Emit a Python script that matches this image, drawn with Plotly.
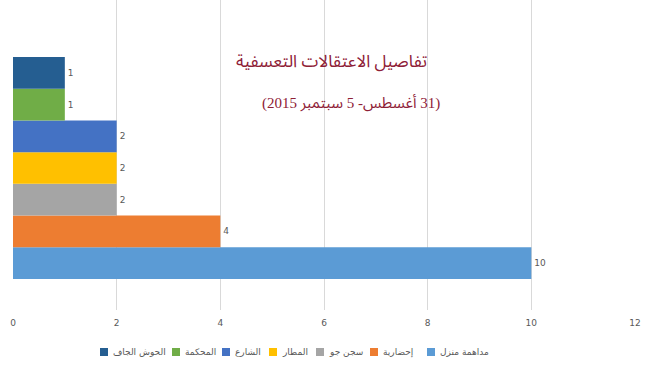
import plotly.graph_objects as go

series_names = ["مداهمة منزل", "إحضارية", "سجن جو", "المطار", "الشارع", "المحكمة", "الحوش الجاف"]
series_values = [10, 4, 2, 2, 2, 1, 1]
series_colors = ["#5B9BD5", "#ED7D31", "#A5A5A5", "#FFC000", "#4472C4", "#70AD47", "#255E91"]
x_ticks = [0, 2, 4, 6, 8, 10, 12]
title_line1 = "تفاصيل الاعتقالات التعسفية"
title_line2 = "(31 أغسطس- 5 سبتمبر 2015)"

# legend layout (pixel positions of legend squares, left-to-right order)
legend_order = ["الحوش الجاف", "المحكمة", "الشارع", "المطار", "سجن جو", "إحضارية", "مداهمة منزل"]
legend_px = [100, 172, 222, 269, 316, 370, 427]

W, H = 650, 375
ML, MR, MT, MB = 13, 15, 0, 65
TITLE_FONT = "Liberation Serif, Noto Sans Arabic, DejaVu Sans"

fig = go.Figure()
for name, val, col in zip(series_names, series_values, series_colors):
    fig.add_trace(go.Bar(
        x=[val], y=[0], name=name, orientation="h",
        marker=dict(color=col, line=dict(width=0)),
        text=[str(val)], textposition="outside",
        textfont=dict(size=9, color="#595959", family="DejaVu Sans"),
        cliponaxis=False, showlegend=False,
    ))

# manual RTL-style legend below the axis
shapes = []
annotations = []
color_of = dict(zip(series_names, series_colors))
pw = W - ML - MR
ph = H - MT - MB
leg_y_px = 352
for name, px in zip(legend_order, legend_px):
    x0 = (px - ML) / pw
    x1 = (px + 8 - ML) / pw
    yc = (H - MB - leg_y_px) / ph
    shapes.append(dict(type="rect", xref="paper", yref="paper",
                       x0=x0, x1=x1, y0=yc - 4 / ph, y1=yc + 4 / ph,
                       fillcolor=color_of[name], line=dict(width=0)))
    annotations.append(dict(text=name, xref="paper", yref="paper",
                            x=(px + 11 - ML) / pw, y=yc, xanchor="left", yanchor="middle",
                            showarrow=False,
                            font=dict(size=9, color="#595959", family="DejaVu Sans")))

annotations += [
    dict(text="\u202B" + title_line1 + "\u202C", x=(331 - ML) / pw, y=1 - 50 / ph,
         xref="paper", yref="paper", showarrow=False,
         font=dict(size=17, color="#8E2036", family=TITLE_FONT)),
    dict(text="\u202B" + title_line2 + "\u202C", x=(351 - ML) / pw, y=1 - 92 / ph,
         xref="paper", yref="paper", showarrow=False,
         font=dict(size=15, color="#8E2036", family=TITLE_FONT)),
]

fig.update_layout(
    width=W, height=H,
    margin=dict(l=ML, r=MR, t=MT, b=MB, autoexpand=False),
    paper_bgcolor="white", plot_bgcolor="white",
    barmode="group", bargap=0.2, bargroupgap=0,
    showlegend=False,
    xaxis=dict(range=[0, 12], tickvals=x_ticks, ticktext=[str(t) for t in x_ticks],
               showgrid=True, gridcolor="#D9D9D9", gridwidth=1, zeroline=False,
               showline=False, automargin=False,
               tickfont=dict(size=9, color="#595959", family="DejaVu Sans"),
               ticks="", ticklabelstandoff=6),
    yaxis=dict(range=[-0.5117, 0.6054], showticklabels=False, showgrid=False,
               zeroline=False, showline=False, automargin=False),
    shapes=shapes,
    annotations=annotations,
)

fig.write_html("out.html")
